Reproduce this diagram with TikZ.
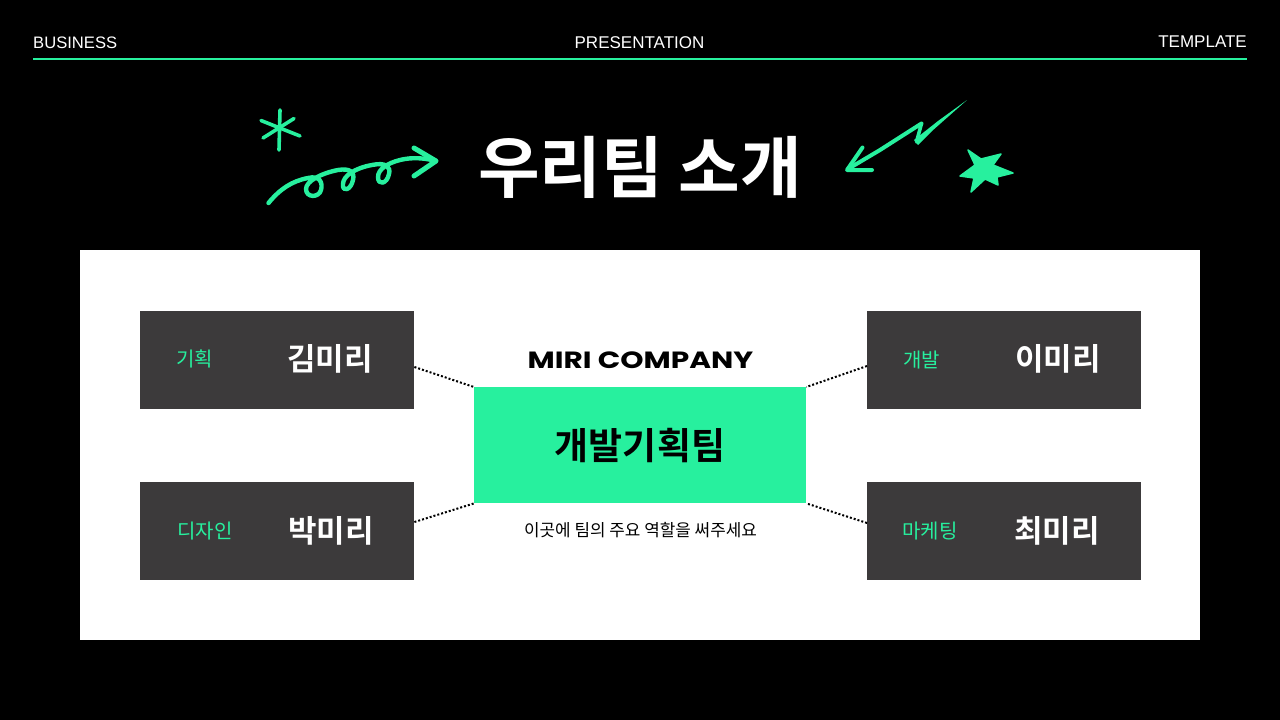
\documentclass[tikz,border=0pt]{standalone}
\usepackage{fontspec}
\setmainfont{Liberation Sans}
\newfontfamily\krr{Noto Sans CJK KR}
\newfontfamily\krb{Noto Sans CJK KR Bold}
\newfontfamily\pop[FakeStretch=1.26]{Poppins Bold}
\definecolor{mint}{HTML}{27F09E}
\definecolor{panel}{HTML}{3C3A3B}
\tikzset{
  x=1pt,y=-1pt,
  hdr/.style={text=white,inner sep=0pt,font=\fontsize{17}{17}\selectfont},
  box/.style={fill=panel,minimum width=274pt,minimum height=98pt,inner sep=0pt,draw=none},
  role/.style={text=mint,inner sep=0pt,font=\krr\fontsize{20}{20}\selectfont},
  who/.style={text=white,inner sep=0pt,font=\krb\fontsize{31}{32}\selectfont},
  dots/.style={black,line width=2pt,dash pattern=on 2pt off 2pt},
  doodle/.style={mint,line cap=round,line join=round}
}
\begin{document}
\begin{tikzpicture}
\useasboundingbox (0,0) rectangle (1280,720);
\fill[black] (0,0) rectangle (1280,720);
\node[hdr,anchor=west,font=\fontsize{16.6}{17}\selectfont] (h1) at (33,42.5) {BUSINESS};
\node[hdr] (h2) at (639.5,42.5) {PRESENTATION};
\node[hdr,anchor=east] (h3) at (1247,41.5) {TEMPLATE};
\fill[mint] (33,58.2) rectangle (1247,60.2);
\node[text=white,inner sep=0pt,font=\krb\fontsize{67}{68}\selectfont] (title) at (640,167) {우리팀 소개};
% asterisk
\draw[doodle,line width=3.6pt] (280,110) -- (279,150);
\draw[doodle,line width=3.6pt] (261,120.5) -- (300,136);
\draw[doodle,line width=3.6pt] (263,138) -- (294,118.5);
% spiral arrow
\draw[doodle,line width=4.4pt] (268.5,203) .. controls (280,189) and (292,181) .. (308,178)
 .. controls (320,175) and (323,183) .. (321,190) .. controls (319,198) and (306,198) .. (306,189)
 .. controls (306,181) and (322,173) .. (338,170) .. controls (350,168) and (355,172) .. (353,180)
 .. controls (351,190) and (342,193) .. (343,184) .. controls (343,176) and (355,168) .. (372,165)
 .. controls (386,162) and (391,167) .. (389,174) .. controls (387,184) and (378,186) .. (378,177)
 .. controls (378,169) and (388,163) .. (400,160) .. controls (412,157) and (425,158) .. (436,161);
\draw[doodle,line width=5pt] (414,148) -- (436,161) -- (414,176);
% lightning arrow
\fill[doodle] (967,100) -- (932,131) -- (918,145) -- (914,140) -- (938,121) -- cycle;
\draw[doodle,line width=3.6pt] (916.5,142) -- (921.5,123.5);
\draw[doodle,line width=4pt] (921.5,123.5) -- (880,150) -- (848,169);
\draw[doodle,line width=4pt] (862.5,147.5) -- (847,170) -- (872,170);
% star
\fill[mint,draw=mint,line width=1.5pt,line join=round] (968,150) -- (981,159) -- (1001,154) -- (993,165) -- (1013,173) -- (997,177) -- (998,185) -- (985,179) -- (971,192) -- (974,178) -- (960,176) -- (975,165) -- cycle;
% panel
\fill[white] (80,250) rectangle (1200,640);
\node[box,anchor=north west] (a) at (140,311) {};
\node[box,anchor=north west] (b) at (140,482) {};
\node[box,anchor=north west] (c) at (867,311) {};
\node[box,anchor=north west] (d) at (867,482) {};
\node[fill=mint,minimum width=332pt,minimum height=116pt,inner sep=0pt,anchor=north west] (m) at (474,387) {};
\node[role] (ar) at (194.5,359) {기획};
\node[who] (an) at (330,359) {김미리};
\node[role] (br) at (205,531) {디자인};
\node[who] (bn) at (331,531) {박미리};
\node[role] (cr) at (921.5,360) {개발};
\node[who] (cn) at (1058,359) {이미리};
\node[role] (dr) at (930,531) {마케팅};
\node[who] (dn) at (1057,531) {최미리};
\node[inner sep=0pt,font=\pop\fontsize{23.5}{24}\selectfont] (co) at (640.5,360) {MIRI COMPANY};
\node[inner sep=0pt,text=black,font=\krb\fontsize{37}{37}\selectfont] (mt) at (640,446) {개발기획팀};
\node[inner sep=0pt,text=black,font=\krr\fontsize{16.9}{17}\selectfont] (st) at (640.5,530) {이곳에 팀의 주요 역할을 써주세요};
\draw[dots] (a.east |- 0,367) -- (m.north west);
\draw[dots] (b.east |- 0,522) -- (m.south west);
\draw[dots] (c.west |- 0,366) -- (m.north east);
\draw[dots] (d.west |- 0,523) -- (m.south east);
\end{tikzpicture}
\end{document}
